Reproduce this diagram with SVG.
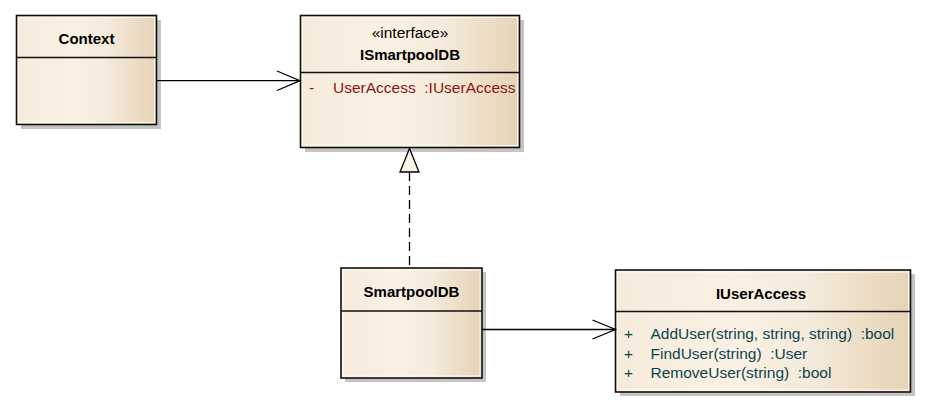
<svg xmlns="http://www.w3.org/2000/svg" width="933" height="412" viewBox="0 0 933 412" xml:space="preserve">
  <defs>
    <linearGradient id="fill" x1="0" y1="0" x2="1" y2="0">
      <stop offset="0" stop-color="#F6EBDB"/>
      <stop offset="0.4" stop-color="#FAF1E4"/>
      <stop offset="0.65" stop-color="#F5EADB"/>
      <stop offset="1" stop-color="#E6D3B6"/>
    </linearGradient>
  </defs>
  <style>
    .shadow { fill: #C4C4C4; }
    .box { fill: url(#fill); stroke: #111; stroke-width: 1.6; }
    .hl { fill: none; stroke: #FFFBF3; stroke-width: 1; }
    .div { stroke: #111; stroke-width: 1.4; }
    text { font-family: "Liberation Sans", Arial, sans-serif; font-size: 15.5px; fill: #000; white-space: pre; }
    .title { font-weight: bold; text-anchor: middle; font-size: 15px; }
    .stereo { text-anchor: middle; }
    .attr { fill: #8B1414; }
    .op { fill: #0B4550; }
    .conn { fill: none; stroke: #000; stroke-width: 1.3; }
    .dash { stroke-dasharray: 9 5; }
    .tri { fill: #FAF3E8; stroke: #000; stroke-width: 1.3; }
  </style>
  <rect width="933" height="412" fill="#fff"/>
  <g id="Context">
    <rect class="shadow" x="21" y="20" width="140" height="109"/>
    <rect class="box" x="16.5" y="15.5" width="140" height="109"/>
    <rect class="hl" x="18.5" y="17.5" width="136" height="105"/>
    <line class="div" x1="16.5" y1="57.5" x2="156.5" y2="57.5"/>
    <text class="title" x="86.5" y="44">Context</text>
  </g>
  <g id="ISmartpoolDB">
    <rect class="shadow" x="305" y="20" width="219" height="132"/>
    <rect class="box" x="300.5" y="15.5" width="219" height="132"/>
    <rect class="hl" x="302.5" y="17.5" width="215" height="128"/>
    <line class="div" x1="300.5" y1="72.5" x2="519.5" y2="72.5"/>
    <text class="stereo" x="410" y="38">«interface»</text>
    <text class="title" x="410" y="60">ISmartpoolDB</text>
    <text class="attr" x="309" y="93">-</text>
    <text class="attr" x="333" y="93">UserAccess  :IUserAccess</text>
  </g>
  <g id="SmartpoolDB">
    <rect class="shadow" x="345" y="272" width="141" height="110"/>
    <rect class="box" x="341" y="268" width="141" height="110"/>
    <rect class="hl" x="343" y="270" width="137" height="106"/>
    <line class="div" x1="341" y1="311" x2="482" y2="311"/>
    <text class="title" x="411.5" y="297">SmartpoolDB</text>
  </g>
  <g id="IUserAccess">
    <rect class="shadow" x="620" y="274" width="295" height="122"/>
    <rect class="box" x="615.5" y="270" width="295" height="122"/>
    <rect class="hl" x="617.5" y="272" width="291" height="118"/>
    <line class="div" x1="615.5" y1="311.5" x2="910.5" y2="311.5"/>
    <text class="title" x="761" y="299">IUserAccess</text>
    <text class="op" x="624" y="339">+</text>
    <text class="op" x="650.5" y="339">AddUser(string, string, string)  :bool</text>
    <text class="op" x="624" y="358.5">+</text>
    <text class="op" x="650.5" y="358.5">FindUser(string)  :User</text>
    <text class="op" x="624" y="378">+</text>
    <text class="op" x="650.5" y="378">RemoveUser(string)  :bool</text>
  </g>
  <g id="connectors">
    <line class="conn" x1="157" y1="80.7" x2="300" y2="80.7"/>
    <polyline class="conn" points="277,71 300,80.7 277,90.5"/>
    <line class="conn dash" x1="409.5" y1="172" x2="409.5" y2="268"/>
    <polygon class="tri" points="409.5,148.5 400,172 419,172"/>
    <line class="conn" x1="482" y1="329.5" x2="615.5" y2="329.5"/>
    <polyline class="conn" points="592.5,320 615.5,329.5 592.5,339"/>
  </g>
</svg>
